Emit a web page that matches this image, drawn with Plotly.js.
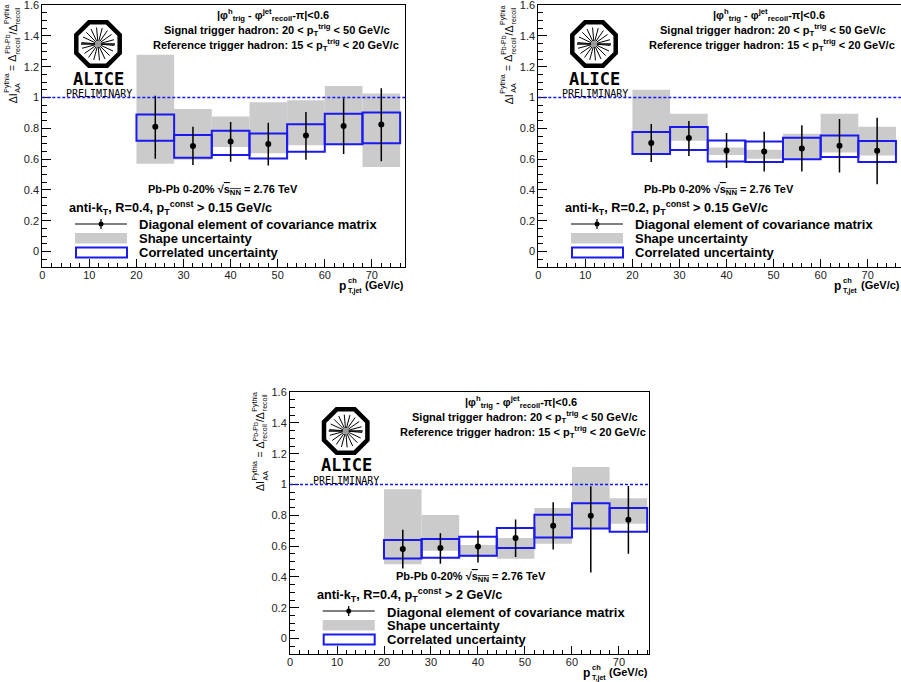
<!DOCTYPE html>
<html><head><meta charset="utf-8">
<script src="https://cdn.plot.ly/plotly-3.0.1.min.js"></script>
<style>html,body{margin:0;padding:0;background:#fff;}#chart{width:901px;height:682px;}</style>
</head><body><div id="chart"></div>
<script>
// ---------------- DATA ----------------
const binCenters = [24, 32, 40, 48, 56, 64, 72];   // p_T,jet^ch bin centres (GeV/c)
const binWidth = 8;
const xTickLabels = ['0','10','20','30','40','50','60','70'];

// Panel A: anti-kT R=0.4, pT const > 0.15 GeV/c
const aValue     = [0.810, 0.686, 0.714, 0.699, 0.753, 0.816, 0.825];
const aErrHigh   = [1.012, 0.810, 0.842, 0.836, 0.906, 0.995, 1.060];
const aErrLow    = [0.603, 0.562, 0.583, 0.559, 0.596, 0.633, 0.586];
const aShapeHigh = [1.278, 0.925, 0.877, 0.969, 0.982, 1.075, 1.027];
const aShapeLow  = [0.570, 0.596, 0.679, 0.638, 0.690, 0.692, 0.549];
const aCorrHigh  = [0.890, 0.757, 0.784, 0.766, 0.827, 0.895, 0.903];
const aCorrLow   = [0.720, 0.609, 0.627, 0.605, 0.649, 0.697, 0.703];

// Panel B: anti-kT R=0.2, pT const > 0.15 GeV/c
const bValue     = [0.705, 0.737, 0.657, 0.650, 0.670, 0.687, 0.655];
const bErrHigh   = [0.828, 0.848, 0.770, 0.778, 0.820, 0.861, 0.869];
const bErrLow    = [0.581, 0.620, 0.542, 0.520, 0.520, 0.514, 0.438];
const bShapeHigh = [1.051, 0.895, 0.676, 0.661, 0.765, 0.895, 0.811];
const bShapeLow  = [0.633, 0.720, 0.627, 0.603, 0.603, 0.644, 0.624];
const bCorrHigh  = [0.776, 0.809, 0.722, 0.715, 0.739, 0.754, 0.718];
const bCorrLow   = [0.633, 0.659, 0.585, 0.581, 0.600, 0.614, 0.581];

// Panel C: anti-kT R=0.4, pT const > 2 GeV/c
const cValue     = [0.581, 0.588, 0.598, 0.653, 0.733, 0.798, 0.772];
const cErrHigh   = [0.707, 0.685, 0.702, 0.774, 0.885, 0.989, 0.991];
const cErrLow    = [0.455, 0.486, 0.494, 0.529, 0.579, 0.429, 0.551];
const cShapeHigh = [0.969, 0.802, 0.607, 0.653, 0.848, 1.114, 0.911];
const cShapeLow  = [0.483, 0.570, 0.529, 0.518, 0.616, 0.715, 0.746];
const cCorrHigh  = [0.640, 0.646, 0.661, 0.718, 0.804, 0.878, 0.848];
const cCorrLow   = [0.520, 0.525, 0.538, 0.588, 0.657, 0.715, 0.694];

const jetLabels = [
  'anti-k<sub>T</sub>, R=0.4, p<sub>T</sub><sup>const</sup> &gt; 0.15 GeV/c',
  'anti-k<sub>T</sub>, R=0.2, p<sub>T</sub><sup>const</sup> &gt; 0.15 GeV/c',
  'anti-k<sub>T</sub>, R=0.4, p<sub>T</sub><sup>const</sup> &gt; 2 GeV/c'
];
const headerLines = [
  '|φ<sup>h</sup><sub>trig</sub> - φ<sup>jet</sup><sub>recoil</sub>-π|&lt;0.6',
  'Signal trigger hadron: 20 &lt; p<sub>T</sub><sup>trig</sup> &lt; 50 GeV/c',
  'Reference trigger hadron: 15 &lt; p<sub>T</sub><sup>trig</sup> &lt; 20 GeV/c'
];
const systemLabel = 'Pb-Pb 0-20% √<span style="text-decoration:overline">s<sub>NN</sub></span> = 2.76 TeV';
const legendLabels = ['Diagonal element of covariance matrix','Shape uncertainty','Correlated uncertainty'];
// y title pieces: [base, superscript, subscript]
const yTitleParts = [['ΔI', 'Pythia', 'AA'], [' = Δ', 'Pb-Pb', 'recoil'], ['/Δ', 'Pythia', 'recoil']];
// x title pieces
const xTitleParts = {base: 'p', sup: 'ch', sub: 'T,jet', unit: '(GeV/c)'};

// ---------------- LAYOUT GEOMETRY ----------------
const W = 901, H = 682;
const fx = v => v / W, fy = v => 1 - v / H;
const GRAY = '#cbcbcb', BLUE = '#1a1af0', FONT = 'Liberation Sans, Arial, sans-serif';
const ctx = document.createElement('canvas').getContext('2d');
function tw(text, size, weight) {
  ctx.font = (weight || 'normal') + ' ' + size + 'px "Liberation Sans"';
  return ctx.measureText(text).width;
}

const panels = [
  {left: 42.3, right: 405.3, top: 5,   bottom: 267, xmax: 77.1, mirrorY: true,
   v: aValue, eh: aErrHigh, el: aErrLow, sh: aShapeHigh, sl: aShapeLow, ch: aCorrHigh, cl: aCorrLow},
  {left: 538.3, right: 901, top: 5,   bottom: 267, xmax: 77.07, mirrorY: false,
   v: bValue, eh: bErrHigh, el: bErrLow, sh: bShapeHigh, sl: bShapeLow, ch: bCorrHigh, cl: bCorrLow},
  {left: 290,  right: 649.3, top: 392, bottom: 654, xmax: 76.45, mirrorY: true,
   v: cValue, eh: cErrHigh, el: cErrLow, sh: cShapeHigh, sl: cShapeLow, ch: cCorrHigh, cl: cCorrLow}
];

const traces = [], shapes = [], annotations = [];
const layout = {
  width: W, height: H, margin: {l: 0, r: 0, t: 0, b: 0},
  paper_bgcolor: '#fff', plot_bgcolor: 'rgba(0,0,0,0)',
  showlegend: false, barmode: 'overlay', hovermode: false,
  font: {family: FONT, color: '#000'}
};

function ann(text, x, y, size, o) {
  o = o || {};
  annotations.push({
    text: text, x: fx(x), y: fy(y), xref: 'paper', yref: 'paper', showarrow: false,
    xanchor: o.xa || 'center', yanchor: o.ya || 'middle', textangle: o.angle || 0, borderpad: 0,
    font: {family: o.family || FONT, size: size, color: o.color || '#000', weight: o.weight || 'bold'}
  });
}
function rectPx(x0, y0, x1, y1, st) {
  shapes.push(Object.assign({type: 'rect', xref: 'paper', yref: 'paper',
    x0: fx(x0), x1: fx(x1), y0: fy(y0), y1: fy(y1)}, st));
}
function linePx(x0, y0, x1, y1, color, width) {
  shapes.push({type: 'line', xref: 'paper', yref: 'paper', x0: fx(x0), x1: fx(x1), y0: fy(y0), y1: fy(y1),
    line: {color: color, width: width}});
}

panels.forEach((p, i) => {
  const n = i === 0 ? '' : String(i + 1);
  const xa = 'x' + n, ya = 'y' + n;
  const dx = p.left - 42.3, dy = p.top - 5;

  layout['xaxis' + n] = {
    domain: [fx(p.left), Math.min(1, fx(p.right))], anchor: ya, range: [0, p.xmax],
    tickmode: 'array', tickvals: xTickLabels.map(Number), ticktext: xTickLabels,
    ticks: 'inside', ticklen: 8, tickwidth: 1, tickcolor: '#000', ticklabelstandoff: -2,
    minor: {dtick: 2, tick0: 0, ticks: 'inside', ticklen: 4, tickwidth: 1, tickcolor: '#000', showgrid: false},
    showline: true, linecolor: '#000', linewidth: 1, mirror: true,
    showgrid: false, zeroline: false, fixedrange: true, ticklabeloverflow: 'allow',
    tickfont: {family: FONT, size: 11, color: '#222'}
  };
  layout['yaxis' + n] = {
    domain: [fy(p.bottom), fy(p.top)], anchor: xa, range: [-0.1, 1.601],
    tick0: 0, dtick: 0.2, ticks: 'inside', ticklen: 9, tickwidth: 1, tickcolor: '#000',
    minor: {dtick: 0.05, tick0: 0, ticks: 'inside', ticklen: 5, tickwidth: 1, tickcolor: '#000', showgrid: false},
    showline: true, linecolor: '#000', linewidth: 1, mirror: p.mirrorY,
    showgrid: false, zeroline: false, fixedrange: true, ticklabeloverflow: 'allow',
    tickfont: {family: FONT, size: 11, color: '#222'}
  };

  // shape uncertainty (gray filled boxes)
  traces.push({type: 'bar', x: binCenters, base: p.sl, y: p.sh.map((h, k) => h - p.sl[k]),
    width: binWidth, xaxis: xa, yaxis: ya, marker: {color: GRAY, line: {width: 0}}});
  // correlated uncertainty (blue open boxes)
  traces.push({type: 'bar', x: binCenters, base: p.cl, y: p.ch.map((h, k) => h - p.cl[k]),
    width: binWidth, xaxis: xa, yaxis: ya, marker: {color: 'rgba(0,0,0,0)', line: {color: BLUE, width: 2}}});
  // points with diagonal errors
  traces.push({type: 'scatter', mode: 'markers', x: binCenters, y: p.v, xaxis: xa, yaxis: ya,
    marker: {color: '#000', size: 6},
    error_y: {type: 'data', symmetric: false, array: p.eh.map((h, k) => h - p.v[k]),
      arrayminus: p.v.map((v, k) => v - p.el[k]), color: '#000', thickness: 1.5, width: 0}});

  // unity reference line
  shapes.push({type: 'line', xref: xa + ' domain', yref: ya, x0: 0, x1: 1, y0: 1, y1: 1,
    line: {color: '#1515ff', width: 1.5, dash: '3px,2px'}});

  // ALICE logo
  const cx = 98 + dx, cy = 44 + dy, R = 23.5;
  let path = '';
  for (let k = 0; k < 8; k++) {
    const a = (22.5 + 45 * k) * Math.PI / 180;
    path += (k ? 'L' : 'M') + fx(cx + R * Math.cos(a)).toFixed(5) + ',' + fy(cy + R * Math.sin(a)).toFixed(5);
  }
  shapes.push({type: 'path', xref: 'paper', yref: 'paper', path: path + 'Z',
    fillcolor: '#fff', line: {color: '#000', width: 4.5}});
  for (let k = 0; k < 18; k++) {
    const a = (20 * k + 5) * Math.PI / 180;
    linePx(cx + 3 * Math.cos(a), cy + 3 * Math.sin(a), cx + 16.5 * Math.cos(a), cy + 16.5 * Math.sin(a), '#000', 1);
  }
  linePx(cx - 17, cy, cx + 17, cy, '#000', 1.6);
  shapes.push({type: 'circle', xref: 'paper', yref: 'paper', x0: fx(cx - 3), x1: fx(cx + 3),
    y0: fy(cy - 3), y1: fy(cy + 3), fillcolor: '#999', line: {width: 0}});
  ann('ALICE', 98.5 + dx, 78.5 + dy, 17, {family: 'DejaVu Sans Mono', weight: 'bold'});
  ann('PRELIMINARY', 98.5 + dx, 93.5 + dy, 10, {family: 'DejaVu Sans Mono', weight: 'normal'});

  // header text
  ann(headerLines[0], 273 + dx, 15 + dy, 11);
  ann(headerLines[1], 277 + dx, 30 + dy, 11);
  ann(headerLines[2], 275.5 + dx, 45 + dy, 11);

  // system / jet definition
  ann(systemLabel, 223 + dx, 190 + dy, 11);
  ann(jetLabels[i], 68 + dx, 208 + dy, 12.7, {xa: 'left'});

  // legend
  linePx(75 + dx, 224 + dy, 127 + dx, 224 + dy, '#000', 1);
  linePx(101 + dx, 219 + dy, 101 + dx, 229 + dy, '#000', 1.2);
  shapes.push({type: 'circle', xref: 'paper', yref: 'paper', x0: fx(98.5 + dx), x1: fx(103.5 + dx),
    y0: fy(221.5 + dy), y1: fy(226.5 + dy), fillcolor: '#000', line: {width: 0}});
  rectPx(75 + dx, 233 + dy, 127 + dx, 243.5 + dy, {fillcolor: GRAY, line: {width: 0}});
  rectPx(76 + dx, 247.5 + dy, 127 + dx, 257.5 + dy, {fillcolor: 'rgba(0,0,0,0)', line: {color: BLUE, width: 2}});
  ann(legendLabels[0], 138 + dx, 225 + dy, 13, {xa: 'left'});
  ann(legendLabels[1], 138 + dx, 238.5 + dy, 13, {xa: 'left'});
  ann(legendLabels[2], 138 + dx, 252.5 + dy, 13, {xa: 'left'});

  // y-axis title (rotated, ROOT-like stacked sub/superscripts), reading bottom -> top
  const baseSize = 10.5, smallSize = 7;
  let total = 0;
  yTitleParts.forEach(pt => { total += tw(pt[0], baseSize) + Math.max(tw(pt[1], smallSize), tw(pt[2], smallSize)) + 0.5; });
  let yPos = 6 + dy + total;
  yTitleParts.forEach(pt => {
    ann(pt[0].replace(/ /g, '\u00a0'), 12.5 + dx, yPos, baseSize, {angle: -90, ya: 'bottom', weight: 'normal'});
    yPos -= tw(pt[0], baseSize) + 0.5;
    ann(pt[1], 7.5 + dx, yPos, smallSize, {angle: -90, ya: 'bottom', weight: 'normal'});
    ann(pt[2], 17.5 + dx, yPos, smallSize, {angle: -90, ya: 'bottom', weight: 'normal'});
    yPos -= Math.max(tw(pt[1], smallSize), tw(pt[2], smallSize));
  });

  // x-axis title (right aligned to frame), stacked sup/sub
  const R0 = Math.min(p.right, 900.5);
  const wUnit = tw(xTitleParts.unit, 11, 'bold');
  const wStack = Math.max(tw(xTitleParts.sup, 7.5, 'bold'), tw(xTitleParts.sub, 7, 'bold'));
  const sx = R0 - wUnit - 6 - wStack;
  ann(xTitleParts.unit, R0, 285 + dy, 11, {xa: 'right'});
  ann(xTitleParts.sup, sx, 280 + dy, 7.5, {xa: 'left'});
  ann(xTitleParts.sub, sx, 290.5 + dy, 7, {xa: 'left'});
  ann(xTitleParts.base, sx - 0.5, 285.5 + dy, 12, {xa: 'right'});
});

layout.shapes = shapes;
layout.annotations = annotations;
Plotly.newPlot('chart', traces, layout, {displayModeBar: false, staticPlot: true});
</script></body></html>
